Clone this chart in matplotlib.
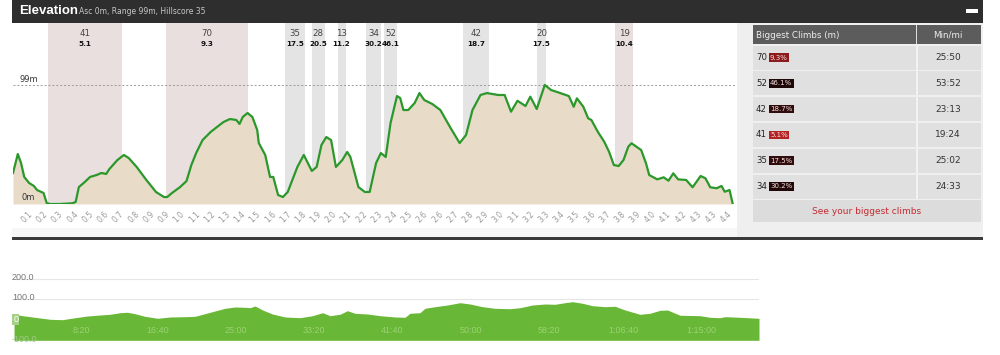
import matplotlib
matplotlib.use('Agg')
import matplotlib.pyplot as plt
import matplotlib.transforms as mtransforms
from matplotlib.patches import Rectangle

# Elevation profile (miles, metres)
dist_mi = [0.00, 0.03, 0.05, 0.07, 0.10, 0.13, 0.15, 0.19, 0.21, 0.23, 0.29, 0.37, 0.39,
           0.41, 0.44, 0.48, 0.52, 0.55, 0.58, 0.60, 0.65, 0.69, 0.72, 0.77, 0.83, 0.89,
           0.94, 0.96, 0.99, 1.04, 1.08, 1.11, 1.14, 1.18, 1.23, 1.27, 1.31, 1.35, 1.39,
           1.41, 1.43, 1.46, 1.49, 1.52, 1.53, 1.57, 1.60, 1.62, 1.65, 1.68, 1.71, 1.77,
           1.81, 1.86, 1.89, 1.92, 1.95, 1.98, 2.01, 2.05, 2.08, 2.10, 2.15, 2.19, 2.22,
           2.26, 2.29, 2.32, 2.35, 2.39, 2.41, 2.43, 2.46, 2.50, 2.53, 2.56, 2.61, 2.66,
           2.72, 2.78, 2.82, 2.86, 2.91, 2.95, 3.02, 3.06, 3.10, 3.14, 3.19, 3.22, 3.26,
           3.31, 3.35, 3.40, 3.46, 3.49, 3.51, 3.55, 3.58, 3.60, 3.64, 3.68, 3.71, 3.74,
           3.77, 3.80, 3.83, 3.85, 3.91, 3.94, 3.96, 4.01, 4.05, 4.08, 4.11, 4.14, 4.19,
           4.23, 4.28, 4.31, 4.34, 4.38, 4.41, 4.43, 4.46, 4.48]
elev_m = [25.8, 41.6, 34.1, 22.5, 17.5, 15.0, 11.6, 9.2, 0.8, 0.0, 0.0, 0.6, 1.7,
          14.1, 17.5, 22.5, 24.1, 25.8, 25.0, 29.1, 36.6, 40.8, 38.3, 30.8, 20.0, 10.0,
          5.8, 5.8, 9.2, 14.1, 19.1, 32.4, 42.4, 53.2, 59.9, 64.1, 68.2, 70.7, 69.9,
          66.6, 72.4, 75.7, 72.4, 61.6, 50.7, 40.8, 22.5, 22.5, 7.5, 5.8, 10.0, 30.8,
          40.8, 27.5, 30.8, 49.1, 55.7, 53.2, 30.8, 36.6, 43.3, 39.1, 14.1, 10.0, 10.0,
          34.1, 42.4, 39.1, 67.4, 89.8, 88.2, 78.2, 78.2, 84.0, 92.3, 86.5, 83.2, 78.2,
          64.1, 50.7, 57.4, 78.2, 90.7, 92.3, 90.7, 90.7, 76.8, 85.9, 81.5, 89.3, 79.0,
          99.0, 94.8, 92.6, 89.8, 80.9, 87.9, 80.9, 71.3, 69.9, 60.1, 51.8, 43.5, 32.4,
          31.6, 36.6, 47.7, 50.5, 44.9, 33.9, 24.1, 20.5, 22.2, 19.4, 25.5, 20.5, 20.0,
          13.9, 23.3, 21.4, 13.9, 13.1, 15.0, 10.2, 11.6, 0.0]

dist_labels = ['0.1', '0.2', '0.3', '0.4', '0.5', '0.6', '0.7', '0.8', '0.9', '0.9',
               '1.0', '1.1', '1.2', '1.3', '1.4', '1.5', '1.6', '1.7', '1.8', '1.9',
               '2.0', '2.1', '2.2', '2.3', '2.4', '2.5', '2.6', '2.6', '2.7', '2.8',
               '2.9', '3.0', '3.1', '3.2', '3.3', '3.4', '3.5', '3.6', '3.7', '3.8',
               '3.9', '4.0', '4.1', '4.2', '4.3', '4.3', '4.4']
tick_step = 0.0946
dist_max = 4.494

# highlighted climbs
band_climb = [41, 70, 35, 28, 13, 34, 52, 42, 20, 19]
band_grade = [5.1, 9.3, 17.5, 20.5, 11.2, 30.2, 46.1, 18.7, 17.5, 10.4]
band_start = [0.22, 0.95, 1.69, 1.86, 2.02, 2.20, 2.31, 2.80, 3.26, 3.75]
band_end = [0.68, 1.46, 1.82, 1.94, 2.07, 2.29, 2.39, 2.96, 3.32, 3.86]

# biggest climbs table
top_climb = [70, 52, 42, 41, 35, 34]
top_grade = ['9.3%', '46.1%', '18.7%', '5.1%', '17.5%', '30.2%']
top_pace = ['25:50', '53:52', '23:13', '19:24', '25:02', '24:33']
badge_col = ['#8e1b1b', '#1e0808', '#300c0c', '#b32222', '#300c0c', '#220909']

# lower strip (time in seconds)
time_s = [13, 67, 147, 243, 322, 402, 482, 562, 626, 690, 737, 785, 849, 929, 1009,
          1105, 1169, 1232, 1296, 1360, 1424, 1488, 1520, 1552, 1600, 1663, 1743, 1839,
          1919, 1983, 2031, 2094, 2142, 2190, 2270, 2350, 2446, 2510, 2541, 2605, 2637,
          2701, 2781, 2861, 2925, 3004, 3084, 3180, 3244, 3324, 3404, 3467, 3531, 3579,
          3643, 3707, 3787, 3851, 3915, 4010, 4074, 4138, 4186, 4266, 4393, 4457, 4521,
          4553, 4649, 4770]
strip_val = [26.6, 20, 12, 2.4, 0.5, 10, 18.5, 23.4, 26.8, 34.6, 36.6, 29.8, 17, 7.3,
             13.7, 15.1, 17, 29.8, 42.9, 56, 62.4, 61, 59, 67.3, 47.8, 28.3, 13.7, 10.2,
             20, 34.6, 20, 26.8, 44.4, 31.7, 28.3, 20, 13.7, 12.2, 31.7, 34.6, 56, 63.9,
             72.2, 83.4, 77, 63.9, 56, 54.1, 59, 72.2, 77, 75.6, 83.4, 88.3, 80.5, 68.8,
             63.9, 65.9, 47.8, 26.8, 31.7, 46.3, 47.8, 22, 20, 12.2, 10.2, 15.1, 12.2, 7.3]
time_ticks = [500, 1000, 1500, 2000, 2500, 3000, 3500, 4000, 4500]
time_labels = ['8:20', '16:40', '25:00', '33:20', '41:40', '50:00', '58:20', '1:06:40', '1:15:00']
strip_yticks = [200, 100, 0, -100]
strip_ylabels = ['200.0', '100.0', '0', '-100.0']

plt.rcParams['font.family'] = ['DejaVu Sans']
narrow = ['Liberation Sans Narrow', 'Liberation Sans', 'DejaVu Sans']

fig = plt.figure(figsize=(10, 3.55), dpi=100)

# page background in pixel coordinates
bg = fig.add_axes([0, 0, 1, 1], zorder=0)
bg.set_xlim(0, 1000)
bg.set_ylim(355, 0)
bg.axis('off')
bg.add_patch(Rectangle((12, 0), 971, 23, fc='#2e2e2e', ec='none'))
bg.text(19, 11.5, 'Elevation', color='white', fontsize=9.5, fontweight='bold',
        va='center', family=['Liberation Sans', 'DejaVu Sans'])
bg.text(79, 12, 'Asc 0m, Range 99m, Hillscore 35', color='#c8c8c8', fontsize=5.5, va='center')
bg.add_patch(Rectangle((966, 8.5), 12, 4, fc='white', ec='none'))
bg.add_patch(Rectangle((12, 23), 725, 205, fc='white', ec='none'))
bg.add_patch(Rectangle((12, 228), 725, 9, fc='#f7f7f7', ec='none'))
bg.add_patch(Rectangle((737, 23), 246, 214, fc='#efefef', ec='none'))
bg.add_patch(Rectangle((12, 237), 971, 2.5, fc='#3a3a3a', ec='none'))

# table
bg.add_patch(Rectangle((753, 25), 228, 19, fc='#5c5c5c', ec='none'))
bg.add_patch(Rectangle((916, 25), 1, 19, fc='#dddddd', ec='none'))
bg.text(756, 35, 'Biggest Climbs (m)', color='#eeeeee', fontsize=6.3, va='center')
bg.text(948, 35, 'Min/mi', color='#eeeeee', fontsize=6.3, va='center', ha='center')
for i in range(len(top_climb)):
    top = 45.5 + i * 25.8
    bg.add_patch(Rectangle((753, top), 228, 24, fc='#e0e0e0', ec='none'))
    bg.add_patch(Rectangle((916, top), 1.5, 24, fc='#f2f2f2', ec='none'))
    yc = top + 12
    bg.text(756, yc, str(top_climb[i]), color='#222222', fontsize=6.2, va='center')
    bg.text(770, yc, top_grade[i], color='#f4e0e0', fontsize=5, va='center',
            bbox=dict(boxstyle='square,pad=0.18', fc=badge_col[i], ec='none'))
    bg.text(948, yc, top_pace[i], color='#333333', fontsize=6.5, va='center', ha='center')
bg.add_patch(Rectangle((753, 200), 228, 22, fc='#dcdcdc', ec='none'))
bg.text(867, 211, 'See your biggest climbs', color='#c62a2f', fontsize=6.5,
        va='center', ha='center')

# main elevation profile
ax = fig.add_axes([0.013, (355 - 204) / 355, 0.722, 181 / 355], zorder=1)
ax.set_facecolor('none')
ax.set_xlim(0, dist_max)
ax.set_ylim(0, 150.6)
for s in ax.spines.values():
    s.set_visible(False)

trans = mtransforms.blended_transform_factory(ax.transData, ax.transAxes)
for c, g, x0, x1 in zip(band_climb, band_grade, band_start, band_end):
    col = '#eadfdf' if g < 10.5 else '#e4e4e4'
    ax.axvspan(x0, x1, color=col, lw=0, zorder=0)
    xm = (x0 + x1) / 2
    ax.text(xm, 0.94, str(c), transform=trans, ha='center', va='center',
            fontsize=6.2, color='#444444')
    ax.text(xm, 0.885, f'{g:.1f}', transform=trans, ha='center', va='center',
            fontsize=5.2, color='#111111', fontweight='bold')

ax.fill_between(dist_mi, elev_m, 0, color='#e8dcc9', lw=0, zorder=1)
ax.plot(dist_mi, elev_m, color='#2a982a', lw=1.6, zorder=3)
ax.axhline(99, color='#9a9a9a', lw=0.7, ls=(0, (2, 2)), zorder=2)
ax.axhline(0, color='#9a9a9a', lw=0.7, ls=(0, (2, 2)), zorder=2)
ax.text(0.04, 104, '99m', fontsize=6, color='#333333', va='center')
ax.text(0.05, 5, '0m', fontsize=6, color='#333333', va='center')

ax.set_yticks([])
ticks = [tick_step * (k + 1) for k in range(len(dist_labels))]
ax.set_xticks(ticks)
ax.set_xticklabels(dist_labels, rotation=45, ha='right', va='top',
                   rotation_mode='anchor', fontsize=5.5, color='#9a9a9a')
ax.tick_params(axis='x', length=0, pad=4)

# lower strip chart
ax2 = fig.add_axes([0.012, (355 - 340.3) / 355, 0.747, 77.9 / 355], zorder=1)
ax2.set_facecolor('none')
ax2.set_xlim(0, 4770)
ax2.set_ylim(-100, 280)
for s in ax2.spines.values():
    s.set_visible(False)
for v in [100, 200]:
    ax2.axhline(v, color='#e6e6e6', lw=0.8, zorder=0)
ax2.fill_between(time_s, strip_val, -100, color='#68b736', lw=0, zorder=1)
ax2.set_xticks([])
ax2.set_yticks([])
for v, lab in zip(strip_yticks, strip_ylabels):
    if v == 0:
        ax2.text(8, v, lab, fontsize=6.5, color='white', va='center', family=narrow,
                 zorder=4, bbox=dict(boxstyle='square,pad=0.1', fc='#a6d089', ec='none'))
    elif v < 0:
        ax2.text(0, v + 4, lab, fontsize=6.5, color='#a3c98c', va='center',
                 family=narrow, zorder=4)
    else:
        ax2.text(0, v + 8, lab, fontsize=6.5, color='#777777', va='center',
                 family=narrow, zorder=4)
for t, lab in zip(time_ticks, time_labels):
    ax2.text(t, -50, lab, fontsize=6.5, color='#9bd275', ha='right', va='center',
             family=narrow, zorder=4)

fig.savefig('out.png', dpi=100)
